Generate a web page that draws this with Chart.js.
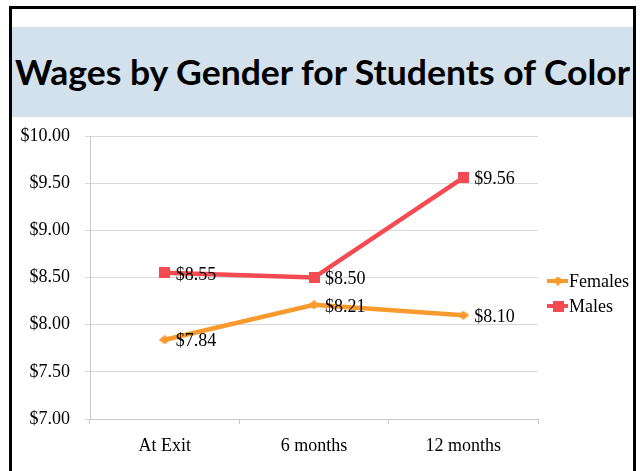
<!DOCTYPE html>
<html>
<head>
<meta charset="utf-8">
<script src="https://cdn.jsdelivr.net/npm/chart.js@4.4.0/dist/chart.umd.min.js"></script>
<style>
  body { margin: 0; width: 640px; height: 471px; overflow: hidden; position: relative; background: #fff; }
  #frame { position: absolute; left: 9px; top: 6px; width: 621px; height: 480px; border: 3px solid #000; border-bottom: none; }
  #band { position: absolute; left: 12px; top: 27px; width: 621px; height: 90px; background: #d3e1ec; }
  #title { position: absolute; left: 15px; top: 54px; font-family: Lato, sans-serif; font-weight: bold; font-size: 35px; line-height: 35px; white-space: nowrap; color: #000; transform-origin: 0 0; }
  #wrap { position: absolute; left: 12px; top: 117px; width: 621px; height: 354px; }
</style>
</head>
<body>
<div id="frame"></div>
<div id="band"></div>
<div id="title">Wages by Gender for Students of Color</div>
<div id="wrap"><canvas id="chart"></canvas></div>
<script>
const categories = ["At Exit", "6 months", "12 months"];
const females = [7.84, 8.21, 8.10];
const males = [8.55, 8.50, 9.56];
const yMin = 7, yMax = 10, yStep = 0.5;

const orange = "#f89a2e";
const red = "#f44a52";
const serif = "'Liberation Serif', 'Times New Roman', serif";

// squeeze the title to the width it has in the picture
const title = document.getElementById("title");
title.style.transform = "scaleX(" + (615 / title.getBoundingClientRect().width) + ")";

function diamond(color, w, h) {
  const c = document.createElement("canvas");
  c.width = w; c.height = h;
  const g = c.getContext("2d");
  g.fillStyle = color;
  g.beginPath();
  g.moveTo(0, h / 2); g.lineTo(w / 2, 0); g.lineTo(w, h / 2); g.lineTo(w / 2, h);
  g.closePath();
  g.fill();
  return c;
}

function square(color, s) {
  const c = document.createElement("canvas");
  c.width = s; c.height = s;
  const g = c.getContext("2d");
  g.fillStyle = color;
  g.fillRect(0, 0, s, s);
  return c;
}

const valueLabels = {
  id: "valueLabels",
  afterDatasetsDraw(chart) {
    const ctx = chart.ctx;
    ctx.save();
    ctx.font = "18px " + serif;
    ctx.fillStyle = "#000";
    ctx.textBaseline = "middle";
    chart.data.datasets.forEach((ds, i) => {
      chart.getDatasetMeta(i).data.forEach((pt, j) => {
        ctx.fillText("$" + ds.data[j].toFixed(2), pt.x + 11, pt.y + 2);
      });
    });
    ctx.restore();
  }
};

const sideLegend = {
  id: "sideLegend",
  afterDraw(chart) {
    const ctx = chart.ctx;
    const x0 = 535, rows = [164, 189];
    ctx.save();
    ctx.font = "18px " + serif;
    ctx.textBaseline = "middle";
    chart.data.datasets.forEach((ds, i) => {
      const y = rows[i];
      ctx.strokeStyle = ds.borderColor;
      ctx.lineWidth = 4;
      ctx.beginPath();
      ctx.moveTo(x0, y); ctx.lineTo(x0 + 21, y);
      ctx.stroke();
      const img = ds.pointStyle;
      ctx.drawImage(img, x0 + 11 - img.width / 2, y - img.height / 2);
      ctx.fillStyle = "#000";
      ctx.fillText(ds.label, x0 + 22, y + 1);
    });
    ctx.restore();
  }
};

new Chart(document.getElementById("chart"), {
  type: "line",
  data: {
    labels: categories,
    datasets: [
      {
        label: "Females",
        data: females,
        borderColor: orange,
        backgroundColor: orange,
        borderWidth: 4.5,
        pointStyle: diamond(orange, 12, 9),
        tension: 0
      },
      {
        label: "Males",
        data: males,
        borderColor: red,
        backgroundColor: red,
        borderWidth: 4.5,
        pointStyle: square(red, 11),
        tension: 0
      }
    ]
  },
  options: {
    responsive: true,
    maintainAspectRatio: false,
    animation: false,
    layout: { padding: { top: 19, right: 95, bottom: 0, left: 0 } },
    plugins: {
      legend: { display: false },
      tooltip: { enabled: false }
    },
    scales: {
      x: {
        offset: true,
        grid: { offset: true, drawOnChartArea: false, tickLength: 5, color: "#c8c8c8" },
        border: { color: "#c8c8c8" },
        ticks: { color: "#000", font: { family: serif, size: 18 }, padding: 11 },
        afterFit(s) { s.height = 52; s.paddingLeft = 0; s.paddingRight = 0; }
      },
      y: {
        min: yMin,
        max: yMax,
        ticks: {
          stepSize: yStep,
          color: "#000",
          font: { family: serif, size: 18 },
          padding: 15,
          callback: v => "$" + v.toFixed(2)
        },
        grid: { color: "#d9d9d9", tickLength: 5 },
        border: { color: "#c8c8c8" },
        afterFit(s) { s.width = 78; s.paddingTop = 0; s.paddingBottom = 0; }
      }
    }
  },
  plugins: [valueLabels, sideLegend]
});
</script>
</body>
</html>
